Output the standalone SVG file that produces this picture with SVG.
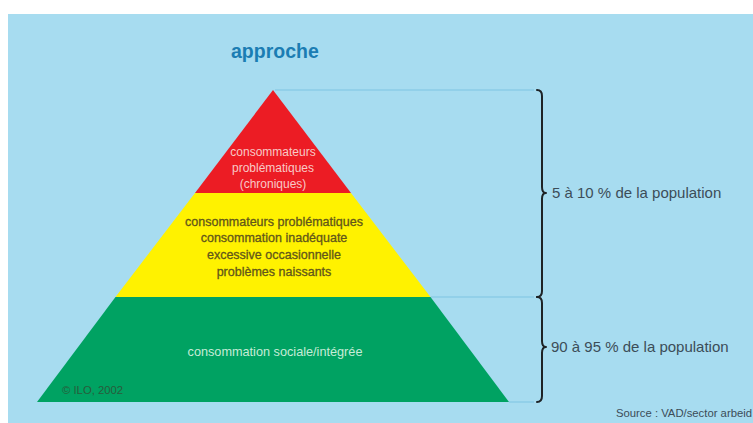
<svg xmlns="http://www.w3.org/2000/svg" width="753" height="423" viewBox="0 0 753 423">
  <style>
    text { font-family: "Liberation Sans", Arial, sans-serif; }
    .title { font-size: 19.5px; font-weight: bold; fill: #1b7db3; }
    .red-t { font-size: 12px; fill: #f8c9c6; text-anchor: middle; }
    .yel-t { font-size: 12.5px; fill: #62561a; stroke: #62561a; stroke-width: 0.3; text-anchor: middle; }
    .grn-t { font-size: 12.7px; fill: #c6ecd7; text-anchor: middle; }
    .pct { font-size: 15px; fill: #3c4d58; }
    .src { font-size: 11.3px; fill: #3c4d58; text-anchor: end; }
    .copy { font-size: 11.3px; fill: #285c3c; }
    .guide { stroke: #8bcde7; stroke-width: 1.5; fill: none; }
    .brace { stroke: #1e2326; stroke-width: 2; fill: none; stroke-linejoin: round; stroke-linecap: round; }
  </style>
  <rect x="0" y="0" width="753" height="423" fill="#ffffff"/>
  <rect x="8" y="14" width="745" height="409" fill="#a7dcf0"/>

  <text id="title" class="title" x="231" y="58">approche</text>

  <g id="connectors">
    <line class="guide" x1="275" y1="90" x2="534" y2="90"/>
    <line class="guide" x1="431" y1="297" x2="534" y2="297"/>
    <line class="guide" x1="509" y1="402" x2="534" y2="402"/>
    <path class="brace" d="M537,90 Q542,90 542,96 L542,187 Q542,193 546,193 Q542,193 542,199 L542,291 Q542,297 537,297"/>
    <path class="brace" d="M537,297 Q542,297 542,303 L542,341 Q542,347 546,347 Q542,347 542,353 L542,396 Q542,402 537,402"/>
  </g>

  <g id="layer-red">
    <polygon points="273,90 195,193 351,193" fill="#ec1c24"/>
    <text class="red-t" x="273" y="156">consommateurs</text>
    <text class="red-t" x="273" y="172">problématiques</text>
    <text class="red-t" x="273" y="188">(chroniques)</text>
  </g>

  <g id="layer-yellow">
    <polygon points="195,193 351,193 430.5,297 115.5,297" fill="#fff200"/>
    <text class="yel-t" x="274" y="226">consommateurs problématiques</text>
    <text class="yel-t" x="274" y="242">consommation inadéquate</text>
    <text class="yel-t" x="274" y="259">excessive occasionnelle</text>
    <text class="yel-t" x="274" y="276">problèmes naissants</text>
  </g>

  <g id="layer-green">
    <polygon points="115.5,297 430.5,297 509,402 37,402" fill="#00a262"/>
    <text class="grn-t" x="275" y="356">consommation sociale/intégrée</text>
    <text class="copy" x="62" y="394">© ILO, 2002</text>
  </g>

  <g id="labels">
    <text class="pct" x="552" y="198">5 à 10 % de la population</text>
    <text class="pct" x="551" y="352">90 à 95 % de la population</text>
    <text class="src" x="752" y="417">Source : VAD/sector arbeid</text>
  </g>
</svg>
